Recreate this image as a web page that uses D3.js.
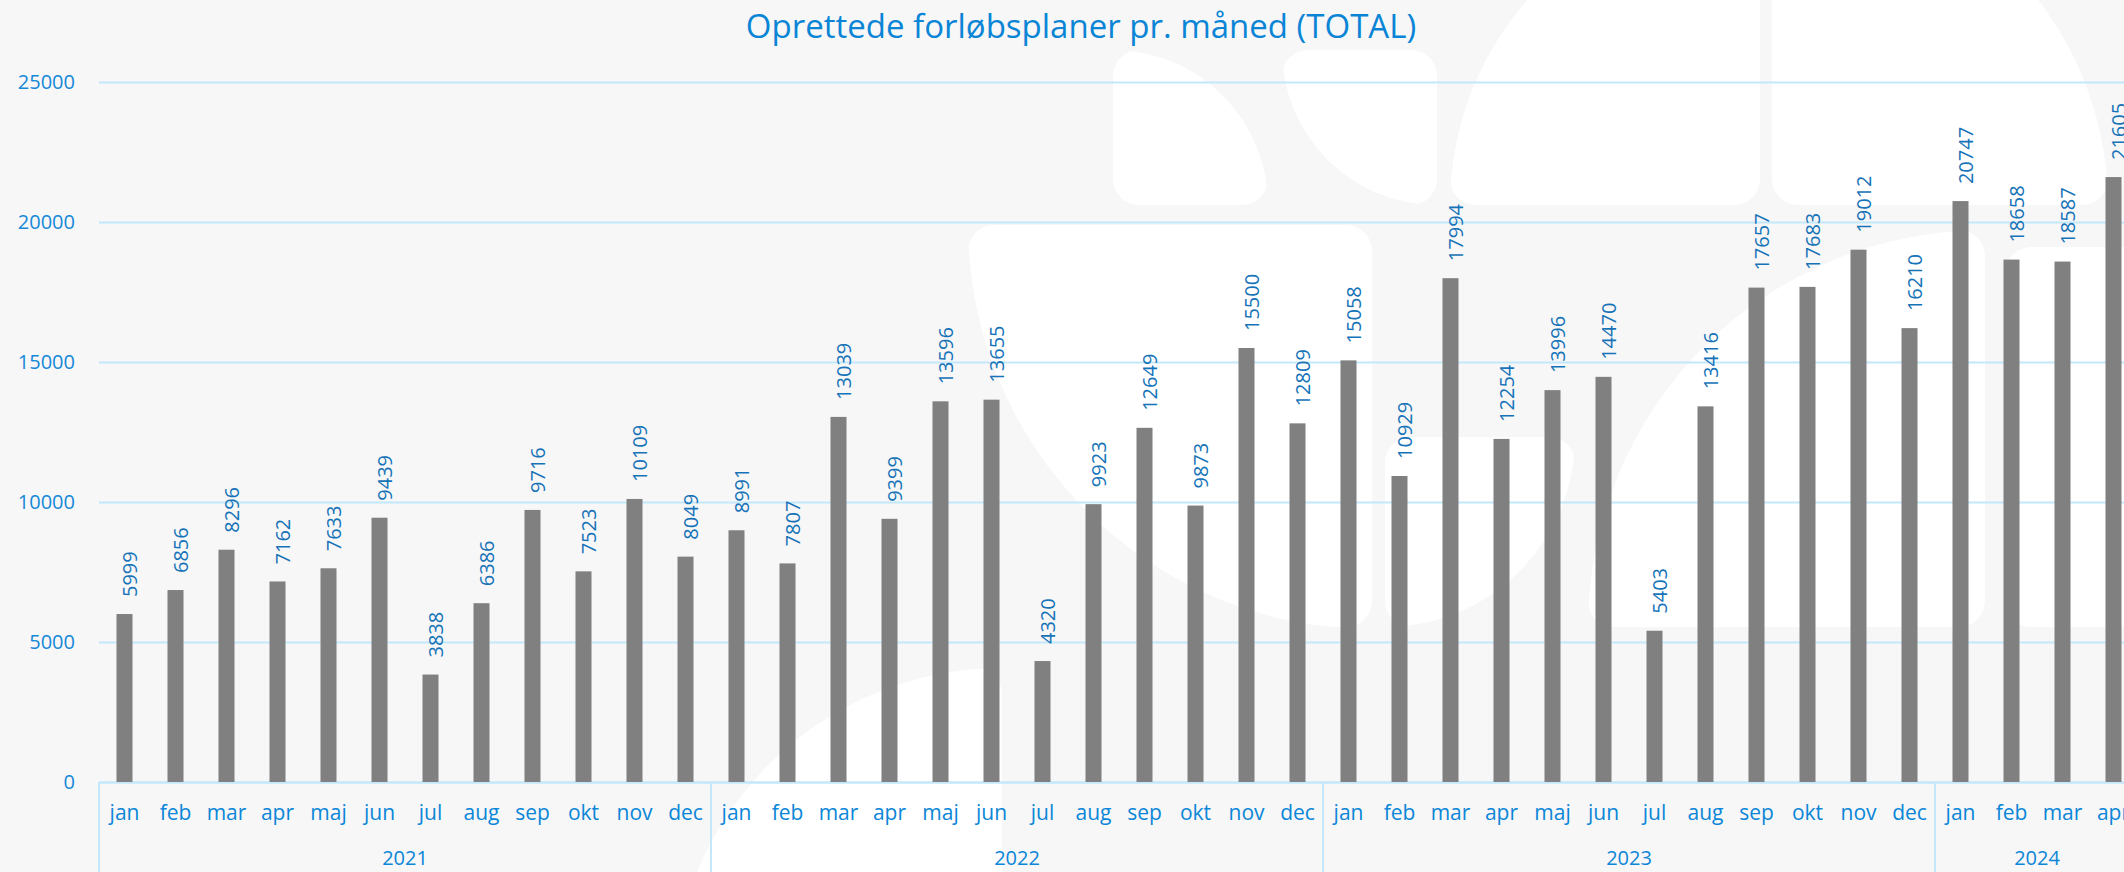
<!DOCTYPE html>
<html>
<head>
<meta charset="utf-8">
<script src="https://cdn.jsdelivr.net/npm/d3@7"></script>
<style>
	body { margin: 0; background: #f7f7f7; }
	svg { display: block; font-family: "Open Sans", sans-serif; }
</style>
</head>
<body>
<svg id="chart"></svg>
<script>
	// chart data
	var title = "Oprettede forløbsplaner pr. måned (TOTAL)";
	var months = ["jan", "feb", "mar", "apr", "maj", "jun", "jul", "aug", "sep", "okt", "nov", "dec"];
	var years = ["2021", "2022", "2023", "2024"];
	var values2021 = [5999, 6856, 8296, 7162, 7633, 9439, 3838, 6386, 9716, 7523, 10109, 8049];
	var values2022 = [8991, 7807, 13039, 9399, 13596, 13655, 4320, 9923, 12649, 9873, 15500, 12809];
	var values2023 = [15058, 10929, 17994, 12254, 13996, 14470, 5403, 13416, 17657, 17683, 19012, 16210];
	var values2024 = [20747, 18658, 18587, 21605];
	var yTicks = [0, 5000, 10000, 15000, 20000, 25000];

	var width = 2124, height = 872;
	var margin = {left: 99, top: 82, bottom: 90};
	// the last year group runs a little past the right edge of the picture
	var plotRight = 2139;
	var axisY = height - margin.bottom;

	// flatten to one row per month
	var data = [];
	[values2021, values2022, values2023, values2024].forEach(function (vals, yi) {
		vals.forEach(function (v, mi) {
			data.push({year: years[yi], month: months[mi], value: v});
		});
	});

	var svg = d3.select("#chart")
		.attr("width", width)
		.attr("height", height);

	svg.append("rect")
		.attr("width", width)
		.attr("height", height)
		.attr("fill", "#f7f7f7");

	// faint logo tiles in the background: rounded rect cut by a circle
	var tiles = [
		{x: 1113, y: 50, w: 155, h: 155, cx: 1113, cy: 205, r: 155},
		{x: 1282, y: 50, w: 155, h: 155, cx: 1437, cy: 50, r: 155},
		{x: 1450, y: -110, w: 310, h: 315, cx: 1760, cy: 205, r: 310},
		{x: 1772, y: -131, w: 336, h: 336, cx: 1772, cy: 205, r: 336},
		{x: 968, y: 225, w: 404, h: 402, cx: 1372, cy: 225, r: 404},
		{x: 1385, y: 437, w: 190, h: 190, cx: 1385, cy: 437, r: 190},
		{x: 1588, y: 230, w: 397, h: 397, cx: 1985, cy: 627, r: 397},
		{x: 2005, y: 247, w: 400, h: 380, cx: 2205, cy: 437, r: 1000},
		{x: 672, y: 668, w: 330, h: 330, cx: 1002, cy: 998, r: 330}
	];
	var defs = svg.append("defs");
	var bg = svg.append("g").attr("class", "watermark");
	tiles.forEach(function (t, i) {
		defs.append("clipPath")
			.attr("id", "tile-" + i)
			.append("circle")
			.attr("cx", t.cx)
			.attr("cy", t.cy)
			.attr("r", t.r);
		bg.append("rect")
			.attr("x", t.x)
			.attr("y", t.y)
			.attr("width", t.w)
			.attr("height", t.h)
			.attr("rx", 26)
			.attr("fill", "#ffffff")
			.attr("clip-path", "url(#tile-" + i + ")");
	});

	var x = d3.scaleBand()
		.domain(d3.range(data.length))
		.range([margin.left, plotRight]);

	var y = d3.scaleLinear()
		.domain([0, 25000])
		.range([axisY, margin.top]);

	// gridlines
	var grid = svg.append("g")
		.attr("transform", "translate(" + margin.left + ",0)")
		.call(d3.axisLeft(y).tickValues(yTicks).tickSize(-(width - margin.left)).tickFormat(""));
	grid.select(".domain").remove();
	grid.selectAll("line")
		.attr("stroke", "#c4e8fb")
		.attr("stroke-width", 2);

	// y tick labels
	var gY = svg.append("g")
		.attr("transform", "translate(" + margin.left + ",0)")
		.call(d3.axisLeft(y).tickValues(yTicks).tickSize(0).tickPadding(24)
			.tickFormat(d3.format("d")));
	gY.select(".domain").remove();
	gY.selectAll("text")
		.attr("font-family", "Open Sans")
		.attr("font-size", 20)
		.attr("fill", "#1688d8");

	// month labels
	var gX = svg.append("g")
		.attr("transform", "translate(0," + axisY + ")")
		.call(d3.axisBottom(x).tickSize(0).tickSizeOuter(0).tickPadding(23)
			.tickFormat(function (i) { return data[i].month; }));
	gX.select(".domain")
		.attr("stroke", "#c4e8fb")
		.attr("stroke-width", 2);
	gX.selectAll("text")
		.attr("font-family", "Open Sans")
		.attr("font-size", 21)
		.attr("fill", "#0b86d8");

	// year groups: separators and labels
	years.forEach(function (yr) {
		var idx = data.map(function (d, i) { return d.year === yr ? i : -1; })
			.filter(function (i) { return i >= 0; });
		var x0 = x(idx[0]), x1 = x(idx[idx.length - 1]) + x.bandwidth();
		svg.append("line")
			.attr("x1", x0).attr("x2", x0)
			.attr("y1", axisY).attr("y2", height)
			.attr("stroke", "#c4e8fb")
			.attr("stroke-width", 2);
		svg.append("text")
			.attr("x", (x0 + x1) / 2)
			.attr("y", 865)
			.attr("text-anchor", "middle")
			.attr("font-size", 20)
			.attr("fill", "#0b86d8")
			.text(yr);
	});

	// bars
	var barW = 16;
	svg.append("g").selectAll("rect")
		.data(data)
		.join("rect")
		.attr("x", function (d, i) { return x(i) + (x.bandwidth() - barW) / 2; })
		.attr("y", function (d) { return y(d.value); })
		.attr("width", barW)
		.attr("height", function (d) { return y(0) - y(d.value); })
		.attr("fill", "#808080");

	// value labels, rotated, above each bar
	svg.append("g").selectAll("text")
		.data(data)
		.join("text")
		.attr("transform", function (d, i) {
			var cx = x(i) + x.bandwidth() / 2 + 5;
			return "translate(" + cx + "," + (y(d.value) - 17) + ") rotate(-90)";
		})
		.attr("dy", "0.36em")
		.attr("font-size", 20)
		.attr("fill", "#1673b8")
		.text(function (d) { return d.value; });

	// title
	svg.append("text")
		.attr("x", 1081)
		.attr("y", 38)
		.attr("text-anchor", "middle")
		.attr("font-size", 33)
		.attr("fill", "#0a85d6")
		.text(title);
</script>
</body>
</html>
